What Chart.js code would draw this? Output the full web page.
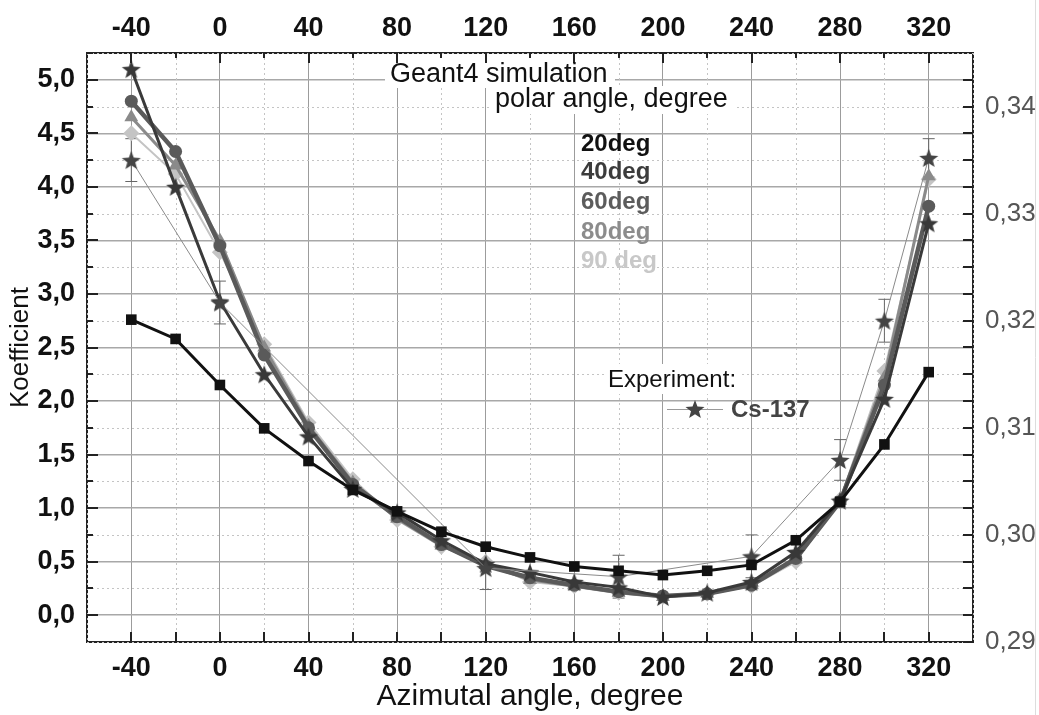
<!DOCTYPE html>
<html>
<head>
<meta charset="utf-8">
<script src="https://cdn.jsdelivr.net/npm/chart.js@4.4.1/dist/chart.umd.min.js"></script>
<style>
  html, body { margin: 0; padding: 0; background: #fff; }
  #wrap { width: 1039px; height: 715px; position: relative; }
</style>
</head>
<body>
<div id="wrap"><canvas id="chart" width="1039" height="715"></canvas></div>
<script>
// azimutal angles of the simulation points
const angles = [-40, -20, 0, 20, 40, 60, 80, 100, 120, 140, 160, 180, 200, 220, 240, 260, 280, 300, 320];

// Geant4 simulation, one array per polar angle
const deg20 = [2.76, 2.58, 2.15, 1.745, 1.44, 1.17, 0.97, 0.78, 0.64, 0.54, 0.455, 0.415, 0.375, 0.415, 0.47, 0.70, 1.06, 1.595, 2.27];
const deg40 = [5.10, 4.00, 2.93, 2.25, 1.67, 1.18, 0.96, 0.70, 0.48, 0.40, 0.31, 0.26, 0.17, 0.21, 0.31, 0.59, 1.07, 2.02, 3.66];
const deg60 = [4.80, 4.33, 3.45, 2.43, 1.75, 1.22, 0.92, 0.66, 0.46, 0.35, 0.28, 0.22, 0.18, 0.20, 0.28, 0.53, 1.06, 2.15, 3.82];
const deg80 = [4.65, 4.20, 3.50, 2.50, 1.77, 1.24, 0.90, 0.65, 0.47, 0.33, 0.27, 0.21, 0.17, 0.20, 0.28, 0.52, 1.07, 2.22, 4.10];
const deg90 = [4.50, 4.12, 3.39, 2.53, 1.80, 1.27, 0.89, 0.64, 0.50, 0.31, 0.27, 0.21, 0.17, 0.20, 0.27, 0.50, 1.08, 2.28, 4.07];

// experiment Cs-137
const expAngles = [-40, 0, 120, 180, 240, 280, 300, 320];
const expValues = [4.25, 2.92, 0.44, 0.36, 0.55, 1.45, 2.75, 4.27];
const expErrors = [0.2, 0.2, 0.2, 0.2, 0.2, 0.19, 0.2, 0.18];

// tick labels
const xTicks = [-40, 0, 40, 80, 120, 160, 200, 240, 280, 320];
const yTicks = [0, 0.5, 1, 1.5, 2, 2.5, 3, 3.5, 4, 4.5, 5];
const y2Ticks = [0.29, 0.30, 0.31, 0.32, 0.33, 0.34];

const FONT = "'Liberation Sans', Arial, sans-serif";

function starImage(r, fill) {
  const c = document.createElement("canvas");
  c.width = c.height = Math.ceil(r * 2 + 2);
  const g = c.getContext("2d");
  const cx = c.width / 2;
  const cy = c.height / 2 + r * 0.1;
  g.beginPath();
  for (let i = 0; i < 10; i++) {
    const rad = i % 2 === 0 ? r : r * 0.42;
    const a = -Math.PI / 2 + (i * Math.PI) / 5;
    g.lineTo(cx + rad * Math.cos(a), cy + rad * Math.sin(a));
  }
  g.closePath();
  g.fillStyle = fill;
  g.fill();
  return c;
}

const simStar = starImage(10, "#383838");
const expStar = starImage(10, "#444444");

function toPoints(xs, ys) {
  return xs.map((x, i) => ({ x: x, y: ys[i] }));
}

function fixTicks(values) {
  return function (axis) {
    axis.ticks = values.map((v) => ({ value: v }));
  };
}

const decor = {
  id: "decor",
  beforeDatasetsDraw(chart) {
    const ctx = chart.ctx;
    const area = chart.chartArea;
    const x = chart.scales.x;
    const y = chart.scales.y;
    ctx.save();
    // dotted minor grid
    ctx.strokeStyle = "#c4c4c4";
    ctx.lineWidth = 1;
    ctx.setLineDash([2, 3]);
    for (let v = -60; v <= 340; v += 40) {
      const px = Math.round(x.getPixelForValue(v)) + 0.5;
      ctx.beginPath();
      ctx.moveTo(px, area.top);
      ctx.lineTo(px, area.bottom);
      ctx.stroke();
    }
    for (let v = -0.25; v <= 5.25; v += 0.5) {
      const py = Math.round(y.getPixelForValue(v)) + 0.5;
      ctx.beginPath();
      ctx.moveTo(area.left, py);
      ctx.lineTo(area.right, py);
      ctx.stroke();
    }
    ctx.setLineDash([]);

    // text boxes
    ctx.fillStyle = "#fff";
    ctx.fillRect(385, 56, 230, 32);
    ctx.fillRect(490, 86, 245, 28);
    ctx.fillRect(604, 364, 137, 30);

    // error bars of the experiment
    ctx.strokeStyle = "#666";
    ctx.lineWidth = 1;
    expAngles.forEach((a, i) => {
      const px = x.getPixelForValue(a);
      const lo = y.getPixelForValue(expValues[i] - expErrors[i]);
      const hi = y.getPixelForValue(expValues[i] + expErrors[i]);
      ctx.beginPath();
      ctx.moveTo(px, lo);
      ctx.lineTo(px, hi);
      ctx.moveTo(px - 6, lo);
      ctx.lineTo(px + 6, lo);
      ctx.moveTo(px - 6, hi);
      ctx.lineTo(px + 6, hi);
      ctx.stroke();
    });
    ctx.restore();
  },
  afterDatasetsDraw(chart) {
    const ctx = chart.ctx;
    const area = chart.chartArea;
    const x = chart.scales.x;
    const y = chart.scales.y;
    const y2 = chart.scales.y2;
    ctx.save();

    // inward ticks
    ctx.strokeStyle = "#222";
    ctx.lineWidth = 2;
    ctx.beginPath();
    for (let v = -40; v <= 320; v += 20) {
      const px = Math.round(x.getPixelForValue(v));
      ctx.moveTo(px, area.bottom);
      ctx.lineTo(px, area.bottom - 10);
      const len = v % 40 === 0 ? 10 : 5;
      ctx.moveTo(px, area.top);
      ctx.lineTo(px, area.top + len);
    }
    for (let v = 0; v <= 5.25; v += 0.25) {
      const py = Math.round(y.getPixelForValue(v));
      const len = Math.abs(v * 2 - Math.round(v * 2)) < 1e-6 ? 11 : 6;
      ctx.moveTo(area.left, py);
      ctx.lineTo(area.left + len, py);
    }
    for (let v = 0.29; v <= 0.345; v += 0.0025) {
      const py = Math.round(y2.getPixelForValue(v));
      ctx.moveTo(area.right, py);
      ctx.lineTo(area.right - 10, py);
    }
    ctx.stroke();

    // annotations
    ctx.fillStyle = "#111";
    ctx.textBaseline = "alphabetic";
    ctx.font = "27px " + FONT;
    ctx.fillText("Geant4 simulation", 390, 82);
    ctx.fillText("polar angle, degree", 495, 107);
    ctx.font = "24px " + FONT;
    ctx.fillText("Experiment:", 608, 387);

    ctx.textBaseline = "middle";
    ctx.font = "bold 24px " + FONT;
    const names = ["20deg", "40deg", "60deg", "80deg", "90 deg"];
    const colors = ["#111111", "#3c3c3c", "#5c5c5c", "#8c8c8c", "#c8c8c8"];
    const rows = [144, 172, 202, 232, 261];
    names.forEach((n, i) => {
      ctx.fillStyle = colors[i];
      ctx.fillText(n, 581, rows[i]);
    });

    // experiment legend entry
    ctx.strokeStyle = "#999";
    ctx.lineWidth = 1;
    ctx.beginPath();
    ctx.moveTo(667, 409.5);
    ctx.lineTo(723, 409.5);
    ctx.stroke();
    ctx.drawImage(expStar, 695 - expStar.width / 2, 409 - expStar.height / 2);
    ctx.fillStyle = "#444";
    ctx.font = "bold 24px " + FONT;
    ctx.fillText("Cs-137", 731, 410);

    // right page edge
    ctx.strokeStyle = "#ddd";
    ctx.beginPath();
    ctx.moveTo(1035.5, 0);
    ctx.lineTo(1035.5, 715);
    ctx.stroke();
    ctx.restore();
  },
};

const tickFont = { family: FONT, size: 27, weight: "bold" };

new Chart(document.getElementById("chart").getContext("2d"), {
  type: "line",
  data: {
    datasets: [
      {
        label: "20deg",
        data: toPoints(angles, deg20),
        borderColor: "#111",
        backgroundColor: "#111",
        borderWidth: 3,
        pointStyle: "rect",
        pointRadius: 7.5,
        pointBorderWidth: 0,
      },
      {
        label: "Cs-137",
        data: toPoints(expAngles, expValues),
        borderColor: "#8a8a8a",
        borderWidth: 1,
        pointStyle: expStar,
      },
      {
        label: "40deg",
        data: toPoints(angles, deg40),
        borderColor: "#3a3a3a",
        backgroundColor: "#3a3a3a",
        borderWidth: 3,
        pointStyle: simStar,
      },
      {
        label: "60deg",
        data: toPoints(angles, deg60),
        borderColor: "#5a5a5a",
        backgroundColor: "#5a5a5a",
        borderWidth: 4.5,
        pointStyle: "circle",
        pointRadius: 6.5,
        pointBorderWidth: 0,
      },
      {
        label: "80deg",
        data: toPoints(angles, deg80),
        borderColor: "#8a8a8a",
        backgroundColor: "#8a8a8a",
        borderWidth: 3,
        pointStyle: "triangle",
        pointRadius: 8,
        pointBorderWidth: 0,
      },
      {
        label: "90 deg",
        data: toPoints(angles, deg90),
        borderColor: "#c4c4c4",
        backgroundColor: "#c4c4c4",
        borderWidth: 2,
        pointStyle: "rectRot",
        pointRadius: 8,
        pointBorderWidth: 0,
      },
    ],
  },
  options: {
    responsive: false,
    animation: false,
    devicePixelRatio: 1,
    layout: { padding: 0 },
    elements: { line: { tension: 0 } },
    plugins: {
      legend: { display: false },
      tooltip: { enabled: false },
    },
    scales: {
      x: {
        type: "linear",
        position: "bottom",
        min: -60,
        max: 340,
        afterBuildTicks: fixTicks(xTicks),
        afterFit: (s) => { s.height = 73; },
        grid: { color: "#9c9c9c", lineWidth: 1, drawTicks: false },
        border: { color: "#222", width: 2 },
        ticks: { font: tickFont, color: "#111", padding: 10, autoSkip: false, maxRotation: 0 },
        title: {
          display: true,
          text: "Azimutal angle, degree",
          font: { family: FONT, size: 30 },
          color: "#111",
          padding: { top: 0, bottom: 0 },
        },
      },
      xTop: {
        type: "linear",
        position: "top",
        min: -60,
        max: 340,
        afterBuildTicks: fixTicks(xTicks),
        afterFit: (s) => { s.height = 53; },
        grid: { drawOnChartArea: false, drawTicks: false },
        border: { color: "#222", width: 2 },
        ticks: { font: tickFont, color: "#111", padding: 8, autoSkip: false, maxRotation: 0 },
      },
      y: {
        position: "left",
        min: -0.25,
        max: 5.25,
        afterBuildTicks: fixTicks(yTicks),
        afterFit: (s) => { s.width = 87; },
        grid: { color: "#a8a8a8", lineWidth: 1.5, drawTicks: false },
        border: { color: "#222", width: 2 },
        ticks: {
          font: tickFont,
          color: "#111",
          padding: 12,
          autoSkip: false,
          callback: (v) => v.toFixed(1).replace(".", ","),
        },
        title: {
          display: true,
          text: "Koefficient",
          font: { family: FONT, size: 26 },
          color: "#111",
          padding: { top: 5, bottom: 0 },
        },
      },
      y2: {
        position: "right",
        min: 0.29,
        max: 0.345,
        afterBuildTicks: fixTicks(y2Ticks),
        afterFit: (s) => { s.width = 66; },
        grid: { drawOnChartArea: false, drawTicks: false },
        border: { color: "#222", width: 2 },
        ticks: {
          font: { family: FONT, size: 26 },
          color: "#555",
          padding: 12,
          autoSkip: false,
          callback: (v) => v.toFixed(2).replace(".", ","),
        },
      },
    },
  },
  plugins: [decor],
});
</script>
</body>
</html>
